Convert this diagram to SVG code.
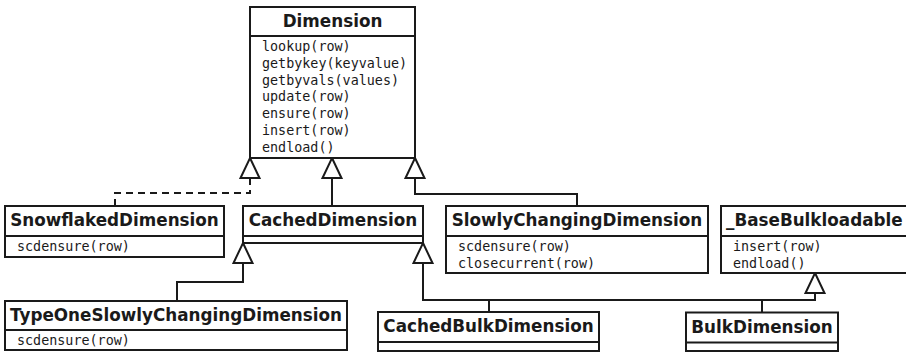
<svg xmlns="http://www.w3.org/2000/svg" width="906" height="352" viewBox="0 0 906 352">
<style>
.box{fill:#fff;stroke:#1a1a1a;stroke-width:2}
.div{stroke:#1a1a1a;stroke-width:2}
.t{font-family:"DejaVu Sans",sans-serif;font-weight:bold;font-size:16.8px;fill:#1a1a1a;text-anchor:middle}
.m{font-family:"DejaVu Sans Mono",monospace;font-size:13.4px;fill:#1a1a1a}
.c{fill:none;stroke:#1a1a1a;stroke-width:2}
.tri{fill:#fff;stroke:#1a1a1a;stroke-width:2;stroke-linejoin:miter}
</style>
<rect width="906" height="352" fill="#fff"/>
<g id="connectors">
<path class="c" d="M250,178 V193 H115 V206" stroke-dasharray="7 5"/>
<path class="c" d="M332,178 V206"/>
<path class="c" d="M415,178 V194 H577 V206"/>
<path class="c" d="M243,263 V282 H177 V301"/>
<path class="c" d="M423,263 V300 H815 V293"/>
<path class="c" d="M489,300 V312"/>
<path class="c" d="M762,300 V312.5"/>
<polygon class="tri" points="250,158 259.5,178 240.5,178"/>
<polygon class="tri" points="332,158 341.5,178 322.5,178"/>
<polygon class="tri" points="415,158 424.5,178 405.5,178"/>
<polygon class="tri" points="243,243 252.5,263 233.5,263"/>
<polygon class="tri" points="423,243 432.5,263 413.5,263"/>
<polygon class="tri" points="815,273 824.5,293 805.5,293"/>
</g>
<g id="Dimension">
<rect class="box" x="250" y="7" width="165" height="151"/>
<line class="div" x1="250" y1="36" x2="415" y2="36"/>
<text class="t" x="332.5" y="27">Dimension</text>
<text class="m" x="262" y="51">lookup(row)</text>
<text class="m" x="262" y="67.8">getbykey(keyvalue)</text>
<text class="m" x="262" y="84.6">getbyvals(values)</text>
<text class="m" x="262" y="101.4">update(row)</text>
<text class="m" x="262" y="118.2">ensure(row)</text>
<text class="m" x="262" y="135">insert(row)</text>
<text class="m" x="262" y="151.8">endload()</text>
</g>
<g id="SnowflakedDimension">
<rect class="box" x="5" y="206" width="219" height="51"/>
<line class="div" x1="5" y1="236" x2="224" y2="236"/>
<text class="t" x="114.5" y="226">SnowflakedDimension</text>
<text class="m" x="17" y="251">scdensure(row)</text>
</g>
<g id="CachedDimension">
<rect class="box" x="243" y="206" width="180" height="37"/>
<line class="div" x1="243" y1="236" x2="423" y2="236"/>
<text class="t" x="333" y="226">CachedDimension</text>
</g>
<g id="SlowlyChangingDimension">
<rect class="box" x="446" y="206" width="262" height="67"/>
<line class="div" x1="446" y1="236" x2="708" y2="236"/>
<text class="t" x="577" y="226">SlowlyChangingDimension</text>
<text class="m" x="458" y="251">scdensure(row)</text>
<text class="m" x="458" y="267.8">closecurrent(row)</text>
</g>
<g id="BaseBulkloadable">
<rect class="box" x="721" y="206" width="190" height="67"/>
<line class="div" x1="721" y1="236" x2="911" y2="236"/>
<text class="t" x="726" y="226" style="text-anchor:start">_BaseBulkloadable</text>
<text class="m" x="733" y="251">insert(row)</text>
<text class="m" x="733" y="267.8">endload()</text>
</g>
<g id="TypeOneSlowlyChangingDimension">
<rect class="box" x="5" y="301" width="342" height="49"/>
<line class="div" x1="5" y1="330" x2="347" y2="330"/>
<text class="t" x="176" y="321">TypeOneSlowlyChangingDimension</text>
<text class="m" x="17" y="345">scdensure(row)</text>
</g>
<g id="CachedBulkDimension">
<rect class="box" x="378" y="312" width="221" height="39"/>
<line class="div" x1="378" y1="342" x2="599" y2="342"/>
<text class="t" x="488.5" y="332">CachedBulkDimension</text>
</g>
<g id="BulkDimension">
<rect class="box" x="686" y="312.5" width="152" height="38.5"/>
<line class="div" x1="686" y1="342.5" x2="838" y2="342.5"/>
<text class="t" x="762" y="332.5">BulkDimension</text>
</g>
</svg>
